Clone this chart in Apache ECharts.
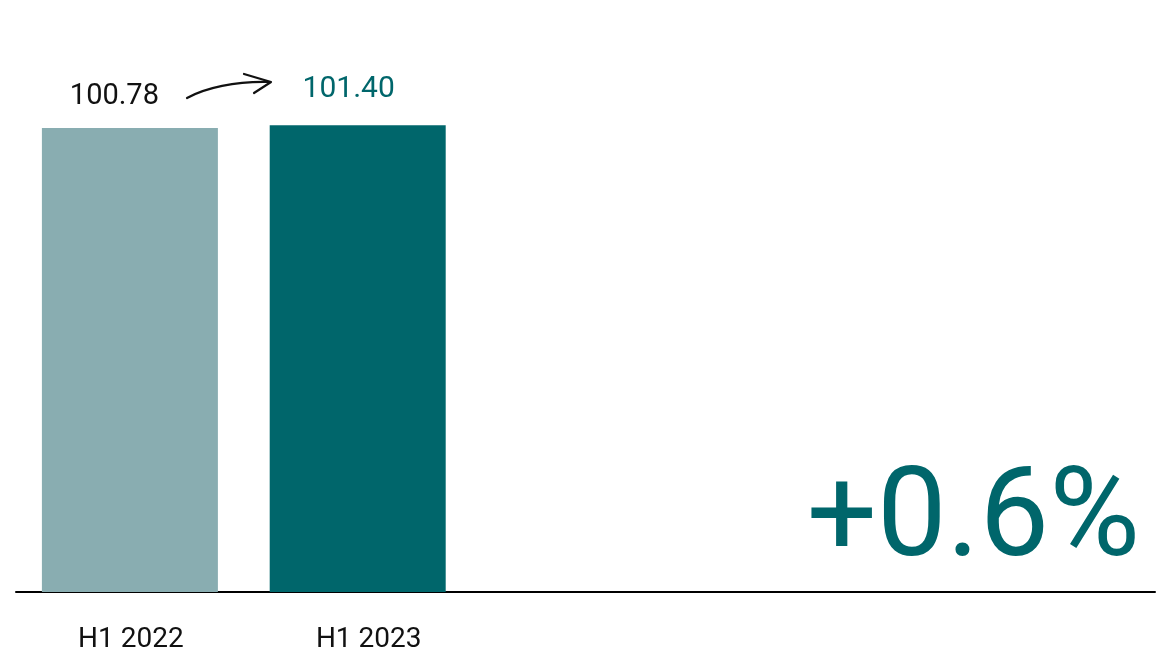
<!DOCTYPE html>
<html>
<head>
<meta charset="utf-8">
<script src="https://cdn.jsdelivr.net/npm/echarts@6/dist/echarts.min.js"></script>
<style>
html,body{margin:0;padding:0;background:#fff;}
#chart{width:1162px;height:658px;}
</style>
</head>
<body>
<div id="chart"></div>
<script>
const categories = ["H1 2022", "H1 2023", "", "", ""];
const values = [100.78, 101.40];
const barColors = ["#89adb1", "#00666b"];
const labelColors = ["#111111", "#00666b"];

const change = (values[1] / values[0] - 1) * 100;
const changeText = (change >= 0 ? "+" : "") + change.toFixed(1) + "%";

const chart = echarts.init(document.getElementById('chart'));
const FONT = 'Roboto';
const W = 400;

chart.setOption({
  animation: false,
  grid: { left: 16, right: 7, bottom: 66, top: 39.5, containLabel: false },
  xAxis: {
    type: 'category',
    data: categories,
    axisLine: { lineStyle: { color: '#000', width: 2 } },
    axisTick: { show: false },
    axisLabel: {
      margin: 34,
      interval: 0,
      fontFamily: FONT,
      fontWeight: W,
      fontSize: 28,
      color: '#111',
      formatter: function (v, i) { return i === 1 ? '{b|' + v + '}' : '{a|' + v + '}'; },
      rich: {
        a: { fontFamily: FONT, fontWeight: W, fontSize: 28, color: '#111', padding: [0, 0, 0, 2] },
        b: { fontFamily: FONT, fontWeight: W, fontSize: 28, color: '#111', padding: [0, 0, 0, 22] }
      }
    }
  },
  yAxis: {
    type: 'value',
    min: 0,
    max: 120,
    show: false,
    splitLine: { show: false }
  },
  series: [{
    type: 'bar',
    barWidth: 176,
    data: values.map((v, i) => ({
      value: v,
      itemStyle: { color: barColors[i] },
      label: {
        show: true,
        position: 'top',
        color: labelColors[i],
        fontFamily: FONT,
        fontWeight: W,
        fontSize: i === 0 ? 29 : 30,
        offset: i === 0 ? [-15.5, -12] : [-9, -16],
        formatter: function (p) { return p.value.toFixed(2); }
      }
    }))
  }],
  graphic: [
    {
      type: 'bezierCurve',
      shape: { x1: 187, y1: 98, cpx1: 205, cpy1: 88, cpx2: 235, cpy2: 81, x2: 270, y2: 82 },
      style: { stroke: '#111', lineWidth: 2.2, fill: null, lineCap: 'round' }
    },
    {
      type: 'polyline',
      shape: { points: [[244, 74], [271, 82], [254, 93]] },
      style: { stroke: '#111', lineWidth: 2.2, fill: null, lineCap: 'round', lineJoin: 'round' }
    },
    {
      type: 'text',
      right: 22,
      top: 462,
      style: {
        text: changeText,
        fontFamily: FONT,
        fontWeight: W,
        fontSize: 124,
        fill: '#00666b'
      }
    }
  ]
});
</script>
</body>
</html>
